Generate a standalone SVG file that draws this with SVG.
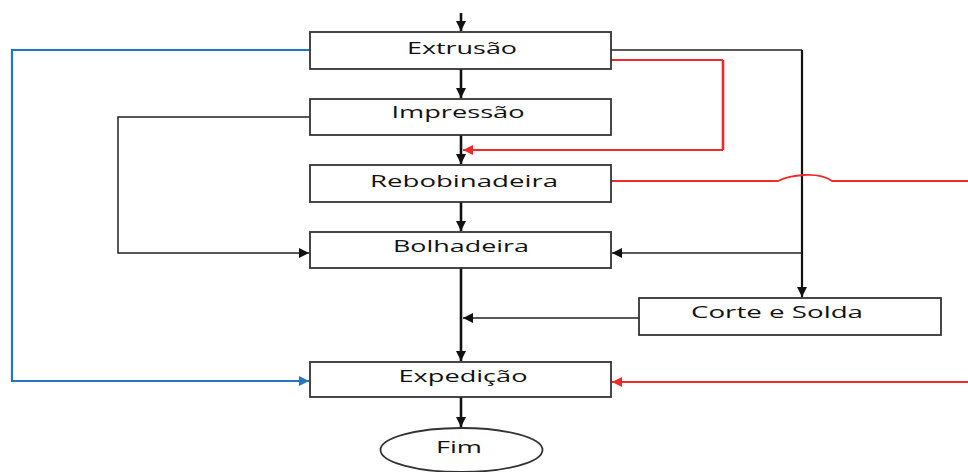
<svg xmlns="http://www.w3.org/2000/svg" width="968" height="472" viewBox="0 0 968 472">
<style>
.box{fill:#fff;stroke:#333;stroke-width:1.8}
.lbl{font-family:"Open Sans","Liberation Sans",sans-serif;font-size:16px;fill:#111;text-anchor:middle}
.main{stroke:#111;stroke-width:2.6;fill:none}
.thin{stroke:#222;stroke-width:1.5;fill:none}
.red{stroke:#ee2b2b;stroke-width:1.8;fill:none}
.blue{stroke:#2277c4;stroke-width:2.2;fill:none}
</style>
<defs>
<marker id="ak" markerWidth="12" markerHeight="12" refX="10" refY="5" orient="auto" markerUnits="userSpaceOnUse"><path d="M0,0 L10,5 L0,10 z" fill="#111"/></marker>
<marker id="ar" markerWidth="12" markerHeight="12" refX="10" refY="5" orient="auto" markerUnits="userSpaceOnUse"><path d="M0,0 L10,5 L0,10 z" fill="#ee2b2b"/></marker>
<marker id="ab" markerWidth="12" markerHeight="12" refX="10" refY="5" orient="auto" markerUnits="userSpaceOnUse"><path d="M0,0 L10,5 L0,10 z" fill="#2277c4"/></marker>
</defs>
<g id="connectors">
<path class="main" d="M461,13 V31" marker-end="url(#ak)"/>
<path class="main" d="M461,69 V98" marker-end="url(#ak)"/>
<path class="main" d="M461,135 V164" marker-end="url(#ak)"/>
<path class="main" d="M461,202 V231" marker-end="url(#ak)"/>
<path class="main" d="M461,268 V361" marker-end="url(#ak)"/>
<path class="main" d="M461,397 V427" marker-end="url(#ak)"/>
<path class="thin" d="M611,50 H802"/>
<path class="main" style="stroke-width:2.2" d="M802,50 V297" marker-end="url(#ak)"/>
<path class="thin" d="M802,253 H612" marker-end="url(#ak)"/>
<path class="thin" d="M639,318 H463" marker-end="url(#ak)"/>
<path class="thin" d="M310,117 H118 V253 H309" marker-end="url(#ak)"/>
<path class="red" d="M611,60 H723"/>
<path class="red" style="stroke-width:2.6" d="M723,60 V150"/>
<path class="red" d="M723,150 H463" marker-end="url(#ar)"/>
<path class="red" d="M611,181 H778 C790,175 818,171 832,181 H968"/>
<path class="red" d="M968,382 H612" marker-end="url(#ar)"/>
<path class="blue" d="M310,50 H12 V381 H309" marker-end="url(#ab)"/>
</g>
<g id="extrusao"><rect class="box" x="310" y="32" width="301" height="37"/><text class="lbl" x="462" y="54" textLength="110" lengthAdjust="spacingAndGlyphs">Extrusão</text></g>
<g id="impressao"><rect class="box" x="310" y="99" width="301" height="36"/><text class="lbl" x="458" y="118" textLength="133" lengthAdjust="spacingAndGlyphs">Impressão</text></g>
<g id="rebobinadeira"><rect class="box" x="310" y="165" width="301" height="37"/><text class="lbl" x="464" y="187" textLength="188" lengthAdjust="spacingAndGlyphs">Rebobinadeira</text></g>
<g id="bolhadeira"><rect class="box" x="310" y="232" width="301" height="36"/><text class="lbl" x="461" y="252" textLength="136" lengthAdjust="spacingAndGlyphs">Bolhadeira</text></g>
<g id="corte"><rect class="box" x="639" y="298" width="302" height="37"/><text class="lbl" x="777" y="318" textLength="172" lengthAdjust="spacingAndGlyphs">Corte e Solda</text></g>
<g id="expedicao"><rect class="box" x="310" y="362" width="301" height="35"/><text class="lbl" x="463" y="382" textLength="129" lengthAdjust="spacingAndGlyphs">Expedição</text></g>
<g id="fim"><ellipse class="box" cx="461.5" cy="450" rx="81" ry="22"/><text class="lbl" x="459" y="453" textLength="46" lengthAdjust="spacingAndGlyphs">Fim</text></g>
</svg>
